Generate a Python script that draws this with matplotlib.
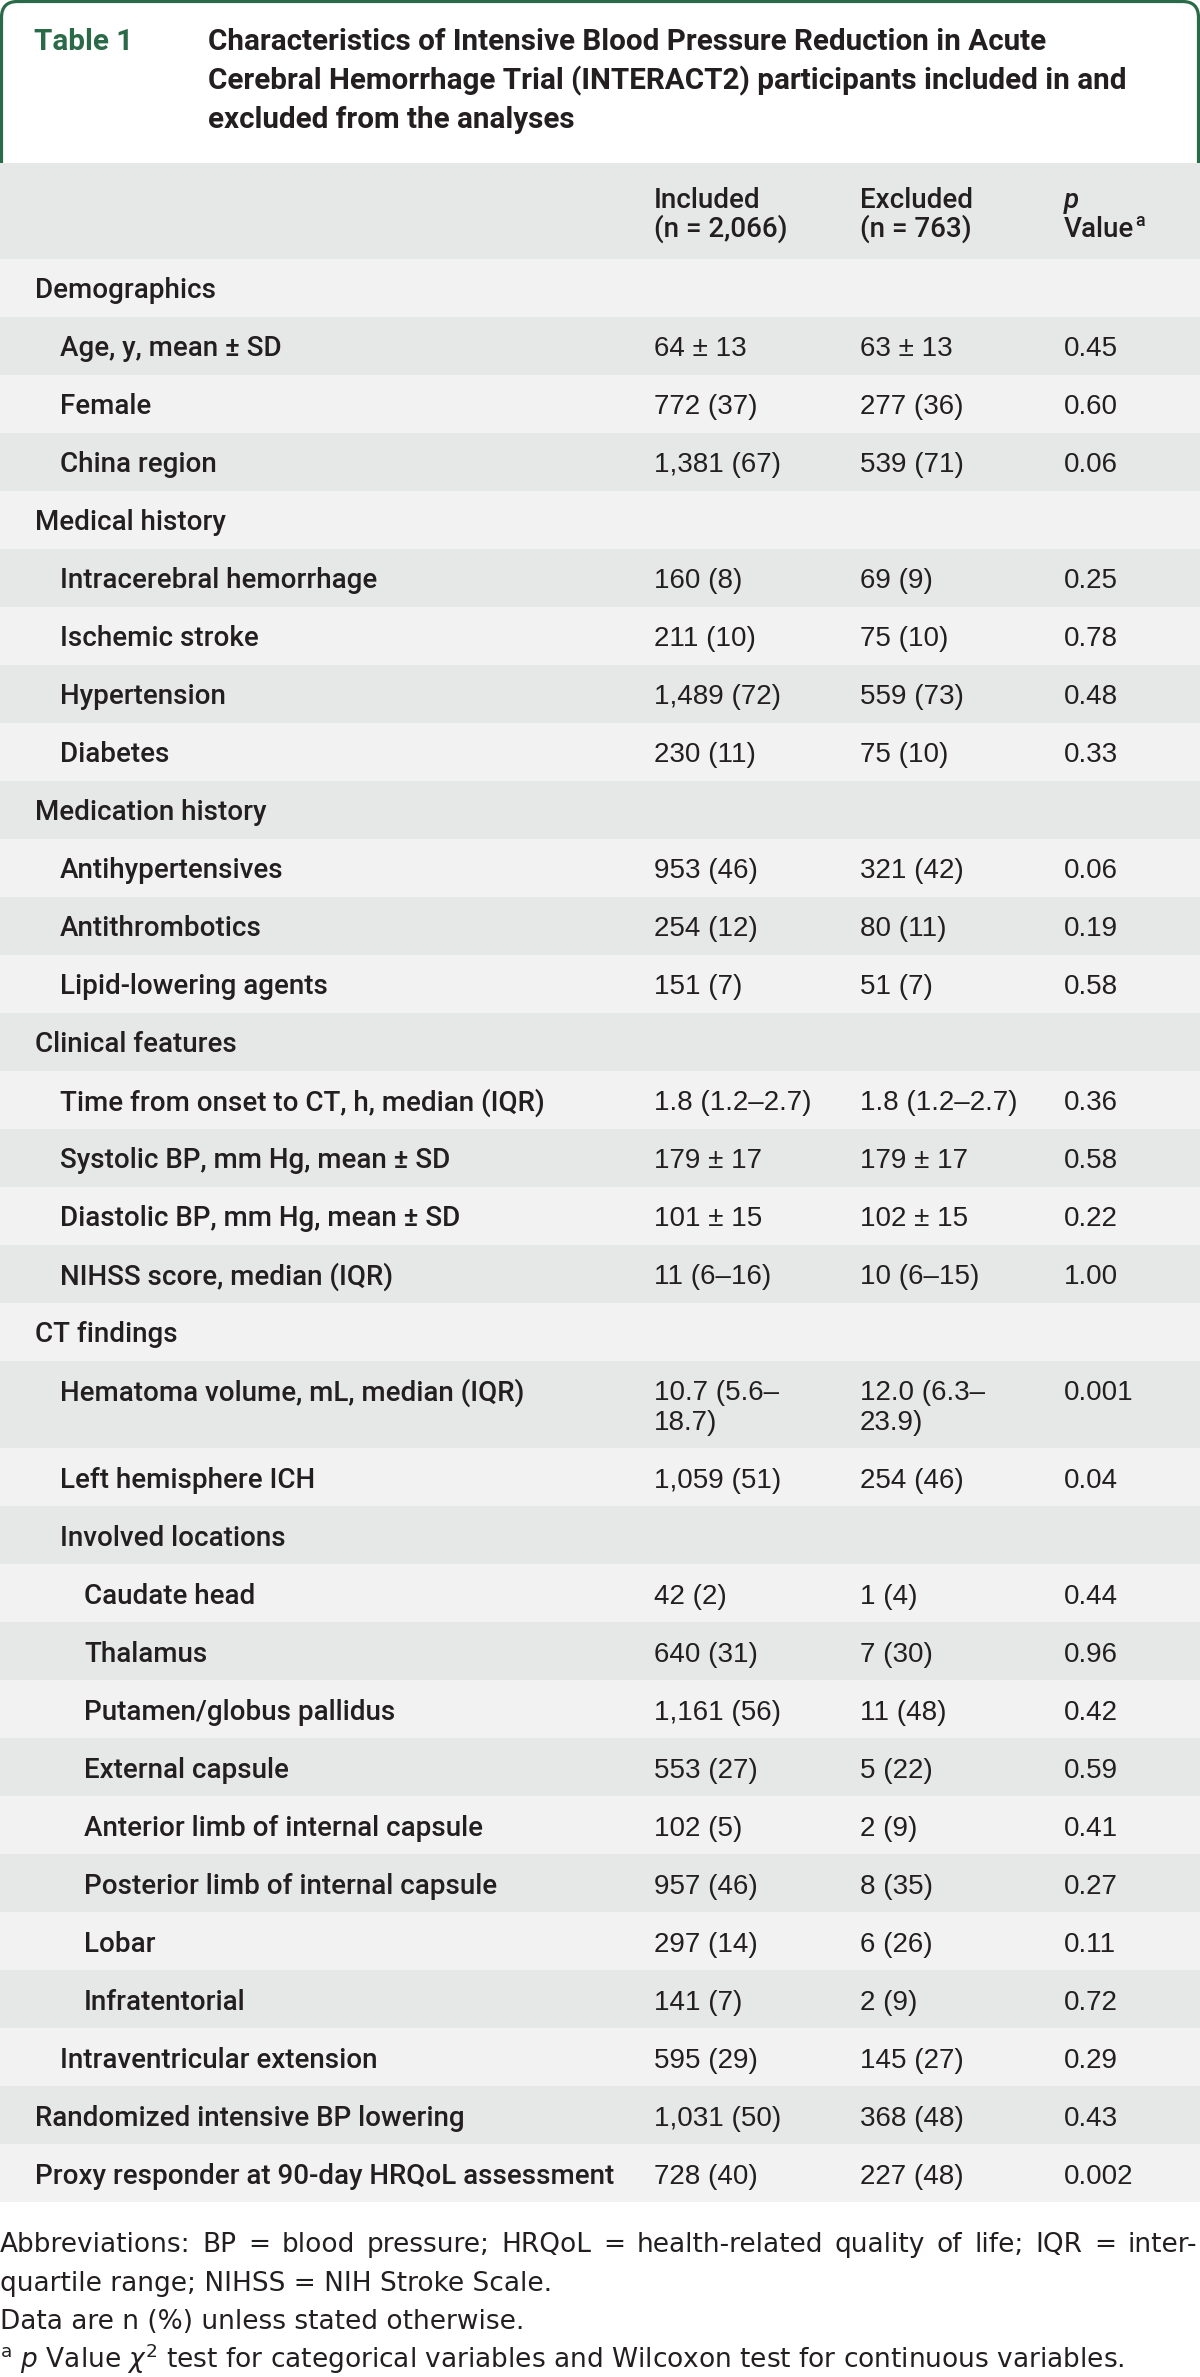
import matplotlib
matplotlib.use("Agg")
import matplotlib.pyplot as plt
from matplotlib.patches import Rectangle, FancyBboxPatch

plt.rcParams['mathtext.fontset'] = 'dejavusans'

# ---- table content ----
table_no = "Table 1"
title_lines = [
    "Characteristics of Intensive Blood Pressure Reduction in Acute",
    "Cerebral Hemorrhage Trial (INTERACT2) participants included in and",
    "excluded from the analyses",
]
col_heads = [["Included", "(n = 2,066)"], ["Excluded", "(n = 763)"], ["p", "Value"]]

labels = [
    "Demographics", "Age, y, mean \u00b1 SD", "Female", "China region",
    "Medical history", "Intracerebral hemorrhage", "Ischemic stroke", "Hypertension", "Diabetes",
    "Medication history", "Antihypertensives", "Antithrombotics", "Lipid-lowering agents",
    "Clinical features", "Time from onset to CT, h, median (IQR)", "Systolic BP, mm Hg, mean \u00b1 SD",
    "Diastolic BP, mm Hg, mean \u00b1 SD", "NIHSS score, median (IQR)",
    "CT findings", "Hematoma volume, mL, median (IQR)", "Left hemisphere ICH", "Involved locations",
    "Caudate head", "Thalamus", "Putamen/globus pallidus", "External capsule",
    "Anterior limb of internal capsule", "Posterior limb of internal capsule", "Lobar", "Infratentorial",
    "Intraventricular extension", "Randomized intensive BP lowering",
    "Proxy responder at 90-day HRQoL assessment",
]
levels = [0, 1, 1, 1, 0, 1, 1, 1, 1, 0, 1, 1, 1, 0, 1, 1, 1, 1,
          0, 1, 1, 1, 2, 2, 2, 2, 2, 2, 2, 2, 1, 0, 0]
included = [
    "", "64 \u00b1 13", "772 (37)", "1,381 (67)",
    "", "160 (8)", "211 (10)", "1,489 (72)", "230 (11)",
    "", "953 (46)", "254 (12)", "151 (7)",
    "", "1.8 (1.2\u20132.7)", "179 \u00b1 17", "101 \u00b1 15", "11 (6\u201316)",
    "", "10.7 (5.6\u2013\n18.7)", "1,059 (51)", "",
    "42 (2)", "640 (31)", "1,161 (56)", "553 (27)", "102 (5)", "957 (46)", "297 (14)", "141 (7)",
    "595 (29)", "1,031 (50)", "728 (40)",
]
excluded = [
    "", "63 \u00b1 13", "277 (36)", "539 (71)",
    "", "69 (9)", "75 (10)", "559 (73)", "75 (10)",
    "", "321 (42)", "80 (11)", "51 (7)",
    "", "1.8 (1.2\u20132.7)", "179 \u00b1 17", "102 \u00b1 15", "10 (6\u201315)",
    "", "12.0 (6.3\u2013\n23.9)", "254 (46)", "",
    "1 (4)", "7 (30)", "11 (48)", "5 (22)", "2 (9)", "8 (35)", "6 (26)", "2 (9)",
    "145 (27)", "368 (48)", "227 (48)",
]
pvals = [
    "", "0.45", "0.60", "0.06",
    "", "0.25", "0.78", "0.48", "0.33",
    "", "0.06", "0.19", "0.58",
    "", "0.36", "0.58", "0.22", "1.00",
    "", "0.001", "0.04", "",
    "0.44", "0.96", "0.42", "0.59", "0.41", "0.27", "0.11", "0.72",
    "0.29", "0.43", "0.002",
]
footnotes = [
    "Abbreviations: BP = blood pressure; HRQoL = health-related quality of life; IQR = inter-",
    "quartile range; NIHSS = NIH Stroke Scale.",
    "Data are n (%) unless stated otherwise.",
    r"$^{\mathrm{a}}$ $p$ Value $\chi^{2}$ test for categorical variables and Wilcoxon test for continuous variables.",
]

# ---- styling ----
W, H = 1200, 2377
GREEN = "#2b6a48"
TXT = "#231f20"
LIGHT = "#f2f2f2"
DARK = "#e6e7e7"
LBL = dict(family="Roboto", weight="medium", fontsize=20, color=TXT)
NUM = dict(family="Liberation Sans", fontsize=20, color=TXT)
FOOT = dict(family="DejaVu Sans", fontsize=19, color=TXT)
indent_x = [35, 60, 84]
col_x = [654, 860, 1064]
head_top, head_bot = 163, 259
row_h = 58
tall_h = 87

fig = plt.figure(figsize=(W / 100, H / 100), dpi=100)
ax = fig.add_axes([0, 0, 1, 1])
ax.set_xlim(0, W)
ax.set_ylim(H, 0)
ax.axis("off")

# green frame around the title
ax.add_patch(FancyBboxPatch((1.5, 1.5), W - 3, 300, boxstyle="round,pad=0,rounding_size=16",
                            fc="white", ec=GREEN, lw=2.3, zorder=1))
ax.text(34, 50, table_no, color=GREEN, family="Roboto", weight="bold", fontsize=21.3, va="baseline")
for i, line in enumerate(title_lines):
    ax.text(208, 50 + 39 * i, line, color=TXT, family="Roboto", weight="bold", fontsize=21.3,
            va="baseline")

# header band
ax.add_patch(Rectangle((0, head_top), W, head_bot - head_top, fc=DARK, ec="none", zorder=2))
for x, (a, b) in zip(col_x, col_heads):
    if a == "p":
        ax.text(x, 208, a, style="italic", va="baseline", zorder=3, **LBL)
        t = ax.text(x, 237, b, va="baseline", zorder=3, **LBL)
        ax.annotate("a", xycoords=t, xy=(1, 0), xytext=(1, 12), textcoords="offset points",
                    va="baseline", fontsize=13, family="Roboto", weight="medium", color=TXT, zorder=3)
    else:
        ax.text(x, 208, a, va="baseline", zorder=3, **LBL)
        ax.text(x, 237, b, va="baseline", zorder=3, **LBL)

# body rows
y = head_bot
for i, lab in enumerate(labels):
    vals = [included[i], excluded[i], pvals[i]]
    h = tall_h if any("\n" in v for v in vals) else row_h
    ax.add_patch(Rectangle((0, y), W, h, fc=LIGHT if i % 2 == 0 else DARK, ec="none", zorder=2))
    ax.text(indent_x[levels[i]], y + 39.5, lab, va="baseline", zorder=3, **LBL)
    for x, v in zip(col_x, vals):
        for k, part in enumerate(v.split("\n")):
            ax.text(x, y + 39.5 + 29 * k, part, va="baseline", zorder=3, **NUM)
    y += h

# footnotes; the first line is justified to the full width
renderer = fig.canvas.get_renderer()
words = footnotes[0].split(" ")
wtexts = [ax.text(0, 2252, w, va="baseline", **FOOT) for w in words]
widths = [t.get_window_extent(renderer).width for t in wtexts]
gap = (W - 3 - sum(widths)) / (len(words) - 1)
xpos = 0
for t, w in zip(wtexts, widths):
    t.set_x(xpos)
    xpos += w + gap
for i, line in enumerate(footnotes[1:], start=1):
    ax.text(0, 2252 + 38.7 * i, line, va="baseline", **FOOT)

fig.savefig("out.png", dpi=100, facecolor="white")
